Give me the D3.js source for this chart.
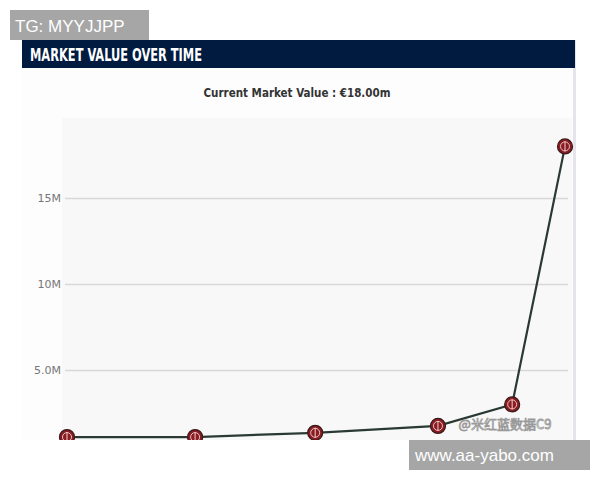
<!DOCTYPE html>
<html><head><meta charset="utf-8">
<script src="https://cdn.jsdelivr.net/npm/d3@7"></script>
<style>body{margin:0;background:#fff}svg{display:block}</style></head>
<body><svg id="c" width="600" height="480"></svg>
<script>
const timePoints = [0, 2.4, 4.65, 6.95, 8.34, 9.33];
const values = [1.1, 1.1, 1.35, 1.75, 3.0, 18.0];
const yTicks = [5, 10, 15];
const tickLabels = ["5.0M", "10M", "15M"];

const svg = d3.select("#c");
const x = d3.scaleLinear().domain([0, 9.33]).range([67, 565]);
const y = d3.scaleLinear().domain([0, 15]).range([456, 198]);

const defs = svg.append("defs");
defs.append("clipPath").attr("id","clip").append("rect").attr("x",0).attr("y",0).attr("width",600).attr("height",440);
const g = svg.append("g").attr("clip-path","url(#clip)");

g.append("rect").attr("x",22).attr("y",68).attr("width",553).attr("height",380).attr("fill","#fdfdfd");
g.append("rect").attr("x",573).attr("y",40).attr("width",3).attr("height",410).attr("fill","#e4e4ea");
g.append("rect").attr("x",62).attr("y",118).attr("width",510).attr("height",330).attr("fill","#f8f8f8");
svg.append("rect").attr("x",22).attr("y",40).attr("width",553).attr("height",28).attr("fill","#001a40");
svg.append("text").attr("x",30).attr("y",61).attr("fill","#fff").attr("font-family","DejaVu Sans Condensed, sans-serif")
  .attr("font-weight","bold").attr("font-size",18).attr("textLength",172).attr("lengthAdjust","spacingAndGlyphs").text("MARKET VALUE OVER TIME");
svg.append("text").attr("x",297).attr("y",97).attr("text-anchor","middle").attr("font-family","DejaVu Sans Condensed, sans-serif")
  .attr("font-weight","bold").attr("font-size",11.5).attr("fill","#333").text("Current Market Value : €18.00m");

const ax = g.append("g").attr("transform","translate(65,0)")
  .call(d3.axisLeft(y).tickValues(yTicks).tickSize(-503).tickFormat((d,i)=>tickLabels[i]));
ax.select(".domain").remove();
ax.selectAll(".tick line").attr("stroke","#d8d8d8").attr("stroke-width",1.5);
ax.selectAll(".tick text").attr("fill","#777").attr("font-size",11).attr("font-family","DejaVu Sans, sans-serif").attr("x",-4);

const line = d3.line().x((d,i)=>x(timePoints[i])).y(d=>y(d));
g.append("path").datum(values).attr("d",line).attr("fill","none").attr("stroke","#2a3a33").attr("stroke-width",2.2);
const pts = g.selectAll(".pt").data(values).enter().append("g").attr("transform",(d,i)=>`translate(${x(timePoints[i])},${y(d)})`);
pts.append("circle").attr("r",7.5).attr("fill","#8a1c22").attr("stroke","#3a1a1a").attr("stroke-width",1.2);
pts.append("circle").attr("r",4.5).attr("fill","none").attr("stroke","#e8c0c0").attr("stroke-width",1);
pts.append("line").attr("x1",0).attr("x2",0).attr("y1",-5).attr("y2",5).attr("stroke","#f0d0d0").attr("stroke-width",1);

g.append("text").attr("x",505).attr("y",429).attr("text-anchor","middle").attr("font-size",13).attr("fill","#fff")
  .attr("stroke","#999").attr("stroke-width",0.8).attr("font-family","Noto Sans CJK SC, sans-serif").text("@米红蓝数据C9");

svg.append("rect").attr("x",10).attr("y",10).attr("width",139).attr("height",30).attr("fill","#a6a6a6");
svg.append("text").attr("x",15).attr("y",32).attr("fill","#fff").attr("font-size",17).attr("font-family","Liberation Sans, sans-serif").text("TG: MYYJJPP");
svg.append("rect").attr("x",409).attr("y",440).attr("width",181).attr("height",30).attr("fill","#a6a6a6");
svg.append("text").attr("x",415).attr("y",461).attr("fill","#fff").attr("font-size",17).attr("font-family","Liberation Sans, sans-serif").text("www.aa-yabo.com");
</script></body></html>
